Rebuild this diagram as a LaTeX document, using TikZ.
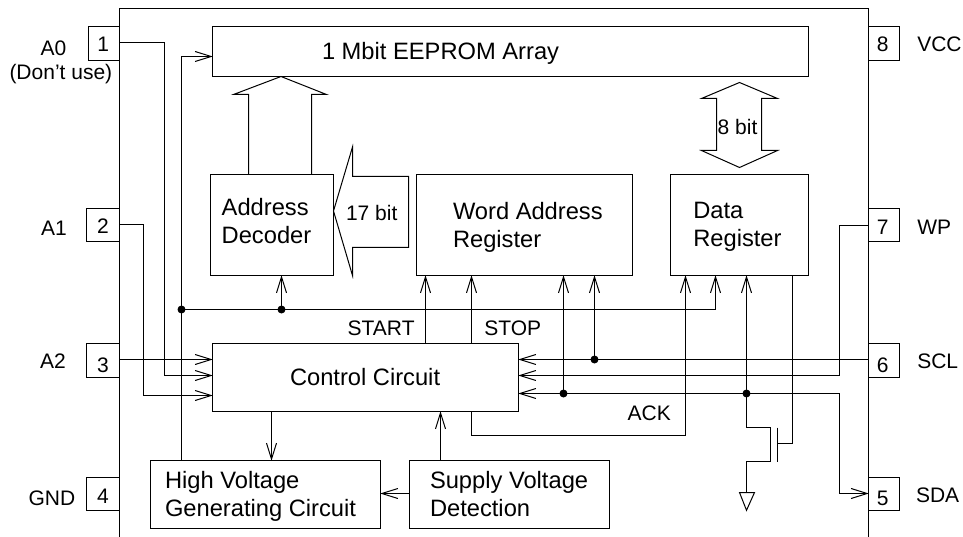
\documentclass[tikz,border=0pt]{standalone}
\usepackage{fontspec}
\setmainfont{Liberation Sans}
\usetikzlibrary{arrows.meta}
\tikzset{
  boxn/.style={draw=black,line width=1pt,inner sep=0pt,outer sep=0pt},
  wire/.style={draw=black,line width=1pt},
  arr/.style={-{Straight Barb[length=16pt,width=10pt,line width=1pt]},shorten >=-0.3pt},
  lab/.style={inner sep=0pt,outer sep=0pt,anchor=base west,font=\fontsize{23.7}{27}\selectfont},
  labs/.style={inner sep=0pt,outer sep=0pt,anchor=base west,font=\fontsize{21}{25}\selectfont},
  labc/.style={inner sep=0pt,outer sep=0pt,anchor=base,font=\fontsize{21}{25}\selectfont},
  dotn/.style={circle,fill=black,draw=none,minimum size=8pt,inner sep=0pt,outer sep=0pt},
  bigarr/.style={draw=black,line width=1pt,line join=miter},
}
\newcommand{\mkbox}[5]{\node[boxn,minimum width={(#4-#2)*1pt},minimum height={(#5-#3)*1pt}] (#1) at ({(#2+#4)/2},{(#3+#5)/2}) {};}
\begin{document}
\begin{tikzpicture}[x=1pt,y=-1pt]
\useasboundingbox (0,0) rectangle (963,537);
% chip outline
\draw[wire] (119.5,537) -- (119.5,8.5) -- (868.5,8.5) -- (868.5,537);
% pins
\mkbox{pinA}{88.5}{26.5}{119.5}{60.5}
\mkbox{pinB}{86.5}{208.5}{119.5}{241.5}
\mkbox{pinC}{86.5}{343.5}{119.5}{377.5}
\mkbox{pinD}{86.5}{477.5}{119.5}{510.5}
\mkbox{pinH}{868.5}{26.5}{899.5}{60.5}
\mkbox{pinG}{868.5}{208.5}{899.5}{241.5}
\mkbox{pinF}{868.5}{343.5}{899.5}{377.5}
\mkbox{pinE}{868.5}{477.5}{899.5}{510.5}
% blocks
\mkbox{eep}{212.5}{26.5}{808.5}{76.5}
\mkbox{dec}{210.5}{174.5}{333.5}{275.5}
\mkbox{word}{416.5}{174.5}{632.5}{275.5}
\mkbox{data}{670.5}{174.5}{808.5}{275.5}
\mkbox{ctrl}{212.5}{343.5}{518.5}{411.5}
\mkbox{hv}{150.5}{460.5}{380.5}{528.5}
\mkbox{sup}{409.5}{460.5}{609.5}{528.5}
% level/position helpers
\coordinate (yA) at (0,42.5);
\coordinate (yB) at (0,224.5);
\coordinate (yG) at (0,225.5);
\coordinate (yEep) at (0,56.5);
\coordinate (yBus) at (0,309.5);
\coordinate (yC1) at (0,359.5);
\coordinate (yC2) at (0,375.5);
\coordinate (yC3) at (0,393.5);
\coordinate (yC4) at (0,395.5);
\coordinate (yAck) at (0,435.5);
\coordinate (yOut) at (0,493.5);
\coordinate (xA) at (164.5,0);
\coordinate (xB) at (143.5,0);
\coordinate (xHv) at (181.5,0);
\coordinate (xDec) at (281.5,0);
\coordinate (xStart) at (425.5,0);
\coordinate (xStop) at (471.5,0);
\coordinate (xD) at (563.5,0);
\coordinate (xS) at (594.5,0);
\coordinate (xAck) at (685.5,0);
\coordinate (xBusEnd) at (715.5,0);
\coordinate (xSda) at (746.5,0);
\coordinate (xGateR) at (792.5,0);
\coordinate (xWp) at (839.5,0);
\coordinate (xCd) at (271.5,0);
\coordinate (xSd) at (440.5,0);
% junction dots
\node[dotn] (j1) at (xHv |- yBus) {};
\node[dotn] (j2) at (xDec |- yBus) {};
\node[dotn] (j3) at (xS |- yC1) {};
\node[dotn] (j4) at (xD |- yC3) {};
\node[dotn] (j5) at (xSda |- yC3) {};
% left side wires
\draw[wire,arr] (pinA.east |- yA) -- (xA |- yA) -- (xA |- yC2) -- (ctrl.west |- yC2);
\draw[wire,arr] (pinB.east |- yB) -- (xB |- yB) -- (xB |- yC4) -- (ctrl.west |- yC4);
\draw[wire,arr] (pinC.east |- yC1) -- (ctrl.west |- yC1);
\draw[wire,arr] (hv.north -| xHv) -- (xHv |- yEep) -- (eep.west |- yEep);
% bus
\draw[wire,arr] (j1.center) -- (xBusEnd |- yBus) -- (data.south -| xBusEnd);
\draw[wire,arr] (j2.center) -- (dec.south -| xDec);
% control to word register
\draw[wire,arr] (ctrl.north -| xStart) -- (word.south -| xStart);
\draw[wire,arr] (ctrl.north -| xStop) -- (word.south -| xStop);
\draw[wire,arr] (j4.center) -- (word.south -| xD);
\draw[wire,arr] (j3.center) -- (word.south -| xS);
% ACK
\draw[wire,arr] (ctrl.south -| xStop) -- (xStop |- yAck) -- (xAck |- yAck) -- (data.south -| xAck);
% right side
\draw[wire,arr] (pinF.west |- yC1) -- (ctrl.east |- yC1);
\draw[wire,arr] (pinG.west |- yG) -- (xWp |- yG) -- (xWp |- yC2) -- (ctrl.east |- yC2);
\draw[wire,arr] (j5.center) -- (ctrl.east |- yC3);
\draw[wire,arr] (j5.center) -- (xWp |- yC3) -- (xWp |- yOut) -- (pinE.west |- yOut);
\draw[wire,arr] (j5.center) -- (data.south -| xSda);
% transistor
\coordinate (tA) at (770.5,427.5);
\coordinate (tB) at (770.5,461.5);
\coordinate (gT) at (777.5,427.5);
\coordinate (gB) at (777.5,461.5);
\coordinate (gM) at (777.5,443.5);
\coordinate (gnd) at (746.5,492.5);
\draw[wire] (j5.center) -- (xSda |- tA) -- (tA) -- (tB) -- (xSda |- tB) -- (gnd);
\draw[wire] (gT) -- (gB);
\draw[wire] (gM) -- (xGateR |- gM) -- (data.south -| xGateR);
\draw[wire,line join=miter] (739.5,492.5) -- (754.5,492.5) -- (746.5,510.3) -- cycle;
% lower blocks
\draw[wire,arr] (ctrl.south -| xCd) -- (hv.north -| xCd);
\draw[wire,arr] (sup.north -| xSd) -- (ctrl.south -| xSd);
\draw[wire,arr] (sup.west |- yOut) -- (hv.east |- yOut);
% big arrows
\draw[bigarr] (248.5,174.5) -- (248.5,94.5) -- (233.5,94.5) -- (281,76.5) -- (326.5,94.5) -- (311.5,94.5) -- (311.5,174.5);
\draw[bigarr] (352.5,275.5) -- (333.5,211) -- (352.5,147) -- (352.5,176.5) -- (408.5,176.5) -- (408.5,247.5) -- (352.5,247.5) -- cycle;
\draw[bigarr] (739.5,82.5) -- (701.5,98.5) -- (716.5,98.5) -- (716.5,150.5) -- (701.5,150.5) -- (739.5,167.5) -- (777.5,150.5) -- (761.5,150.5) -- (761.5,98.5) -- (777.5,98.5) -- cycle;
% pin numbers
\node[labc] (nA) at (103.3,51.7) {1};
\node[labc] (nB) at (103,233.3) {2};
\node[labc] (nC) at (103,372) {3};
\node[labc] (nD) at (103,503.7) {4};
\node[labc] (nH) at (882.7,51.7) {8};
\node[labc] (nG) at (882.7,234.3) {7};
\node[labc] (nF) at (882.7,372) {6};
\node[labc] (nE) at (882.7,505.3) {5};
% pin names
\node[labs] (tA0) at (40.5,55.7) {A0};
\node[labs] (tDU) at (9.5,79.3) {(Don’t use)};
\node[labs] (tA1) at (41,235.7) {A1};
\node[labs] (tA2) at (40,368.7) {A2};
\node[labs] (tGND) at (28.5,505.3) {GND};
\node[labs] (tVCC) at (917.3,51.7) {VCC};
\node[labs] (tWP) at (917.3,234.3) {WP};
\node[labs] (tSCL) at (917.3,368.7) {SCL};
\node[labs] (tSDA) at (916,502) {SDA};
% block texts
\node[lab] (tEep) at (322,60) {1 Mbit EEPROM Array};
\node[lab] (tAd1) at (221.7,215.7) {Address};
\node[lab] (tAd2) at (221.7,243.3) {Decoder};
\node[labs] (t17) at (346,221) {17 bit};
\node[lab] (tW1) at (453,220) {Word Address};
\node[lab] (tW2) at (453,247.3) {Register};
\node[lab] (tD1) at (693.3,218.3) {Data};
\node[lab] (tD2) at (693.3,246.7) {Register};
\node[labs] (t8) at (717.7,135) {8 bit};
\node[labs] (tST) at (347.7,335.3) {START};
\node[labs] (tSP) at (484.3,335.3) {STOP};
\node[lab] (tCC) at (290,385.3) {Control Circuit};
\node[labs] (tACK) at (627.7,420.3) {ACK};
\node[lab] (tH1) at (165,488.7) {High Voltage};
\node[lab] (tH2) at (165,516.3) {Generating Circuit};
\node[lab] (tS1) at (430,488.7) {Supply Voltage};
\node[lab] (tS2) at (430,516.3) {Detection};
\end{tikzpicture}
\end{document}
